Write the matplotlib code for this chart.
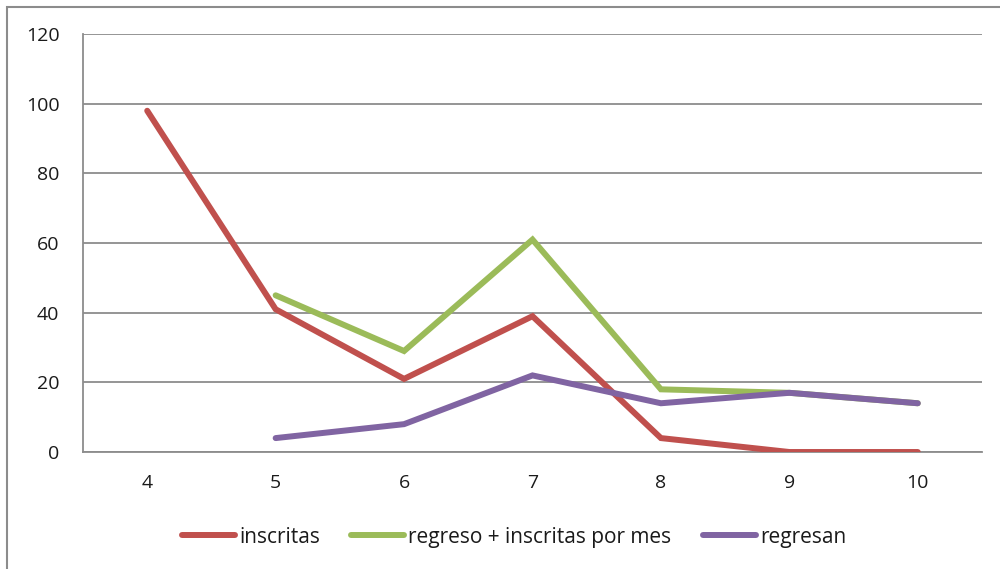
import matplotlib.pyplot as plt
from matplotlib.patches import Rectangle

# meses y series
meses = ['4', '5', '6', '7', '8', '9', '10']
inscritas = [98, 41, 21, 39, 4, 0, 0]
regresan = [None, 4, 8, 22, 14, 17, 14]
regreso_inscritas = [None, 45, 29, 61, 18, 17, 14]

plt.rcParams['font.family'] = ['Open Sans', 'DejaVu Sans']

fig = plt.figure(figsize=(10, 5.69), dpi=100)
ax = fig.add_axes([0.083, 0.2056, 0.899, 0.7344])

x = list(range(len(meses)))


def puntos(valores):
    xs = [i for i, v in zip(x, valores) if v is not None]
    ys = [v for v in valores if v is not None]
    return xs, ys


lw = 4.3
ax.plot(*puntos(inscritas), color='#C0504D', lw=lw, label='inscritas',
        solid_capstyle='round', solid_joinstyle='miter', zorder=3)
ax.plot(*puntos(regreso_inscritas), color='#9BBB59', lw=lw,
        label='regreso + inscritas por mes',
        solid_capstyle='round', solid_joinstyle='miter', zorder=3)
ax.plot(*puntos(regresan), color='#8064A2', lw=lw, label='regresan',
        solid_capstyle='round', solid_joinstyle='miter', zorder=4)

ax.set_xlim(-0.5, len(meses) - 0.5)
ax.set_ylim(0, 120)
ax.set_yticks(range(0, 121, 20))
ax.set_xticks(x)
ax.set_xticklabels(meses)

ax.grid(axis='y', color='#8c8c8c', lw=1.3)
ax.set_axisbelow(True)
for s in ['top', 'right']:
    ax.spines[s].set_visible(False)
ax.spines['left'].set_color('#8c8c8c')
ax.spines['left'].set_linewidth(1.3)
ax.spines['bottom'].set_color('#8c8c8c')
ax.spines['bottom'].set_linewidth(1.3)
ax.tick_params(length=0, labelsize=14, colors='#1a1a1a')
ax.tick_params(axis='y', pad=17)
ax.tick_params(axis='x', pad=16)

leg = fig.legend(loc='center', bbox_to_anchor=(0.514, 0.056), ncol=3,
                 frameon=False, fontsize=15, handlelength=2.55,
                 handletextpad=0.2, columnspacing=1.5)
for h in leg.get_lines():
    h.set_linewidth(lw)
    h.set_solid_capstyle('round')
for t in leg.get_texts():
    t.set_color('#1a1a1a')

# marco exterior del grafico
fig.patches.append(Rectangle((0.007, -0.1), 1.1, 1.087, transform=fig.transFigure,
                             fill=False, edgecolor='#8c8c8c', lw=1.5))

fig.savefig('out.png', dpi=100)
